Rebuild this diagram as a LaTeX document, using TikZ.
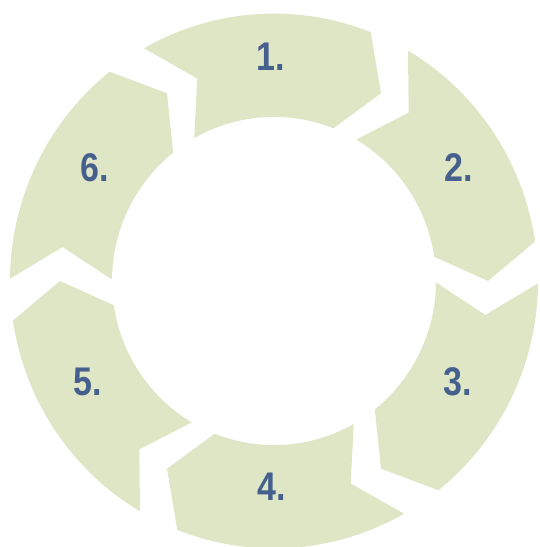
\documentclass[tikz,border=0pt]{standalone}
\usepackage{fontspec}
\setmainfont{Liberation Sans}
\definecolor{segfill}{RGB}{223,230,198}
\definecolor{numcol}{RGB}{70,96,142}
\begin{document}
\begin{tikzpicture}[x=1pt,y=1pt,
  segshape/.style={fill=segfill, draw=none},
  numlabel/.style={text=numcol, inner sep=0pt,
    font=\fontsize{40}{40}\selectfont\bfseries\addfontfeature{FakeStretch=0.85}}]
\useasboundingbox (0,0) rectangle (539,547);
\begin{scope}[shift={(274,266)}, yscale=1.013]
\foreach \c in {94,34,-26,-86,-146,154} {
  \fill[segshape] ({\c+25.5}:264) arc[start angle={\c+25.5}, end angle={\c-25.5}, radius=264]
    -- ({\c-34}:214) -- ({\c-25.5}:162)
    arc[start angle={\c-25.5}, end angle={\c+25.5}, radius=162]
    -- ({\c+17}:214) -- cycle;
}
\end{scope}
\node[numlabel] (n1) at (271,490) {1.};
\node[numlabel] (n2) at (459,379) {2.};
\node[numlabel] (n3) at (458,165) {3.};
\node[numlabel] (n4) at (272,60) {4.};
\node[numlabel] (n5) at (88,165) {5.};
\node[numlabel] (n6) at (95,379) {6.};
\end{tikzpicture}
\end{document}
